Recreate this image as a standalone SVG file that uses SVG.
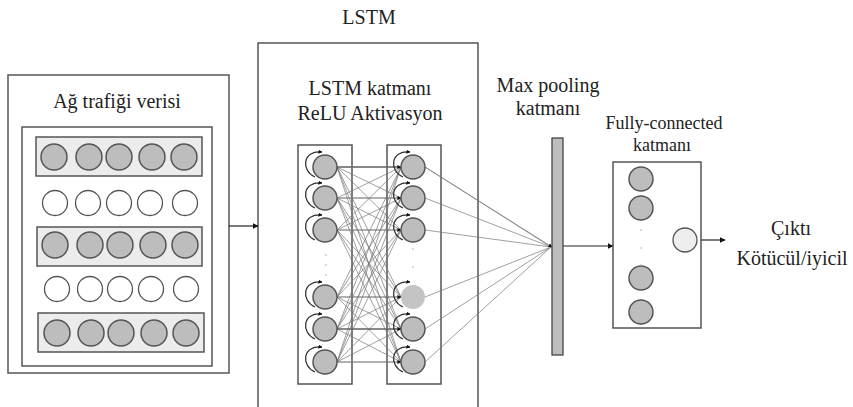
<svg xmlns="http://www.w3.org/2000/svg" width="853" height="407" viewBox="0 0 853 407">
<defs>
<marker id="ah" viewBox="0 0 10 10" refX="9" refY="5" markerWidth="6" markerHeight="6" orient="auto" markerUnits="userSpaceOnUse"><path d="M0,0 L10,5 L0,10 z" fill="#111"/></marker>
<marker id="ahs" viewBox="0 0 10 10" refX="9" refY="5" markerWidth="4" markerHeight="4" orient="auto" markerUnits="userSpaceOnUse"><path d="M0,0 L10,5 L0,10 z" fill="#111"/></marker>
</defs>
<style>
text{font-family:'Liberation Serif','Times New Roman',serif;fill:#222;text-anchor:middle}
.t{font-size:20px}
.s{font-size:18px}
.box{fill:#fff;stroke:#555;stroke-width:1.5}
.band{fill:#ececec;stroke:#555;stroke-width:1.5}
.g{fill:#bdbdbd;stroke:#555;stroke-width:1.5}
.w{fill:#fff;stroke:#555;stroke-width:1.3}
.lg{fill:#c4c4c4;stroke:none}
.o{fill:#eeeeee;stroke:#555;stroke-width:1.3}
.cn{stroke:#777;stroke-width:0.7;fill:none}
.lp{stroke:#333;stroke-width:1.3;fill:none}
.ar{stroke:#222;stroke-width:1.2;fill:none}
.dot{fill:#aaa}
</style>
<rect width="853" height="407" fill="#fff"/>

<g id="input">
<rect class="box" x="8" y="75" width="221" height="298"/>
<rect class="box" x="22" y="127" width="190" height="239"/>
<text class="t" x="117" y="108">Ağ trafiği verisi</text>
<rect class="band" x="36" y="137" width="166" height="39"/>
<rect class="band" x="37" y="227" width="165" height="39"/>
<rect class="band" x="38" y="313" width="166" height="39"/>
<g class="g"><circle cx="54" cy="157" r="13"/><circle cx="89" cy="157" r="13"/><circle cx="119" cy="157" r="13"/><circle cx="152" cy="157" r="13"/><circle cx="184" cy="157" r="13"/></g>
<g class="w"><circle cx="55" cy="203" r="12.5"/><circle cx="88" cy="203" r="12.5"/><circle cx="119" cy="203" r="12.5"/><circle cx="150" cy="203" r="12.5"/><circle cx="185" cy="203" r="12.5"/></g>
<g class="g"><circle cx="55" cy="245" r="13"/><circle cx="90" cy="245" r="13"/><circle cx="120" cy="245" r="13"/><circle cx="153" cy="245" r="13"/><circle cx="185" cy="245" r="13"/></g>
<g class="w"><circle cx="57" cy="289" r="12.5"/><circle cx="90" cy="289" r="12.5"/><circle cx="120" cy="289" r="12.5"/><circle cx="151" cy="289" r="12.5"/><circle cx="186" cy="289" r="12.5"/></g>
<g class="g"><circle cx="57" cy="333" r="13"/><circle cx="91" cy="333" r="13"/><circle cx="121" cy="333" r="13"/><circle cx="154" cy="333" r="13"/><circle cx="186" cy="333" r="13"/></g>
</g>

<g id="lstm">
<text class="t" x="369" y="24">LSTM</text>
<path d="M258,407 V43 H478 V407" fill="none" stroke="#555" stroke-width="1.5"/>
<text class="t" x="370" y="95">LSTM katmanı</text>
<text class="t" x="370" y="120">ReLU Aktivasyon</text>
<rect class="box" x="298" y="145" width="54" height="239"/>
<rect class="box" x="387" y="145" width="54" height="239"/>
</g>

<g id="connectors">
<g class="cn">
<path d="M337,167 L401,167 M337,167 L401,198 M337,167 L401,230 M337,167 L401,297 M337,167 L401,329 M337,167 L401,362"/>
<path d="M337,198 L401,167 M337,198 L401,198 M337,198 L401,230 M337,198 L401,297 M337,198 L401,329 M337,198 L401,362"/>
<path d="M337,230 L401,167 M337,230 L401,198 M337,230 L401,230 M337,230 L401,297 M337,230 L401,329 M337,230 L401,362"/>
<path d="M337,297 L401,167 M337,297 L401,198 M337,297 L401,230 M337,297 L401,297 M337,297 L401,329 M337,297 L401,362"/>
<path d="M337,329 L401,167 M337,329 L401,198 M337,329 L401,230 M337,329 L401,297 M337,329 L401,329 M337,329 L401,362"/>
<path d="M337,362 L401,167 M337,362 L401,198 M337,362 L401,230 M337,362 L401,297 M337,362 L401,329 M337,362 L401,362"/>
<path d="M425,167 L551,247 M425,198 L551,247 M425,230 L551,247 M425,297 L551,247 M425,329 L551,247 M425,362 L551,247"/>
<path d="M653,179 L673,240 M653,208 L673,240 M653,278 L673,240 M653,312 L673,240"/>
</g>
<path d="M337,167 H401 M337,329 H401" fill="none" stroke="#555" stroke-width="1"/>
<g marker-end="url(#ahs)" class="cn">
<path d="M337,167 L401,167"/><path d="M337,198 L401,198"/><path d="M337,230 L401,230"/><path d="M337,297 L401,297"/><path d="M337,329 L401,329"/><path d="M337,362 L401,362"/>
<path d="M425,167 L552,247"/>
<path d="M653,208 L674,240"/>
</g>
<line class="ar" x1="229" y1="226" x2="258" y2="226" marker-end="url(#ah)"/>
<line class="ar" x1="563" y1="246" x2="613" y2="246" marker-end="url(#ah)"/>
<line class="ar" x1="697" y1="240" x2="725" y2="240" marker-end="url(#ah)"/>
</g>

<g id="lstm-left">
<g class="lp" marker-end="url(#ahs)">
<path d="M315,177 C301,171 302,150 322,152"/>
<path d="M315,208 C301,202 302,181 322,183"/>
<path d="M315,240 C301,234 302,213 322,215"/>
<path d="M315,307 C301,301 302,280 322,282"/>
<path d="M315,339 C301,333 302,312 322,314"/>
<path d="M315,372 C301,366 302,345 322,347"/>
</g>
<g class="g">
<circle cx="325" cy="167" r="12"/><circle cx="325" cy="198" r="12"/><circle cx="325" cy="230" r="12"/>
<circle cx="325" cy="297" r="12"/><circle cx="325" cy="329" r="12"/><circle cx="325" cy="362" r="12"/>
</g>
<g class="dot"><circle cx="326" cy="255" r="0.8"/><circle cx="326" cy="265" r="0.8"/><circle cx="326" cy="275" r="0.8"/></g>
</g>

<g id="lstm-right">
<g class="lp" marker-end="url(#ahs)">
<path d="M403,177 C389,171 390,150 410,152"/>
<path d="M403,208 C389,202 390,181 410,183"/>
<path d="M403,240 C389,234 390,213 410,215"/>
<path d="M403,307 C389,301 390,280 410,282"/>
<path d="M403,339 C389,333 390,312 410,314"/>
<path d="M403,372 C389,366 390,345 410,347"/>
</g>
<g class="g">
<circle cx="413" cy="167" r="12"/><circle cx="413" cy="198" r="12"/><circle cx="413" cy="230" r="12"/>
<circle cx="413" cy="329" r="12"/><circle cx="413" cy="362" r="12"/>
</g>
<circle class="lg" cx="413" cy="297" r="12"/>
<g class="dot"><circle cx="413" cy="249" r="0.8"/><circle cx="413" cy="267" r="0.8"/></g>
</g>

<g id="maxpool">
<text class="t" x="548" y="92">Max pooling</text>
<text class="t" x="548" y="115">katmanı</text>
<rect x="552" y="138" width="11" height="217" fill="#bdbdbd" stroke="#444" stroke-width="1.3"/>
</g>

<g id="fc">
<text class="s" x="664" y="129">Fully-connected</text>
<text class="s" x="662" y="151">katmanı</text>
<rect class="box" x="613" y="162" width="88" height="166"/>
<g class="g">
<circle cx="641" cy="179" r="12"/><circle cx="641" cy="208" r="12"/><circle cx="641" cy="278" r="12"/><circle cx="641" cy="312" r="12"/>
</g>
<g class="dot"><circle cx="641" cy="230" r="0.8"/><circle cx="641" cy="248" r="0.8"/><circle cx="641" cy="265" r="0.8"/></g>
<circle class="o" cx="685" cy="240" r="12"/>
</g>

<g id="output">
<text class="t" x="791" y="235">Çıktı</text>
<text class="t" x="792" y="265">Kötücül/iyicil</text>
</g>
</svg>
